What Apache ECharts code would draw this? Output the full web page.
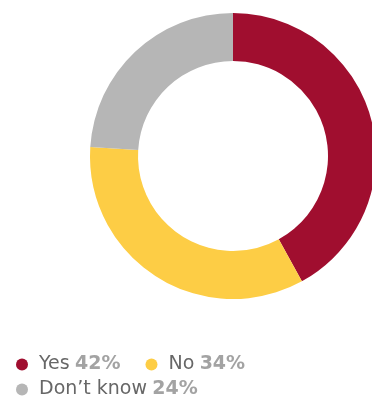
<!DOCTYPE html>
<html>
<head>
<meta charset="utf-8">
<script src="https://cdn.jsdelivr.net/npm/echarts@6/dist/echarts.min.js"></script>
<style>
  html, body { margin: 0; padding: 0; background: #fff; }
  #chart { width: 372px; height: 401px; }
</style>
</head>
<body>
<div id="chart"></div>
<script>
// Survey answers and their shares (%)
const answers = ['Yes', 'No', 'Don\u2019t know'];
const shares = [42, 34, 24];
const colors = ['#A00E2F', '#FDCD45', '#B6B6B6'];

const chart = echarts.init(document.getElementById('chart'), null, { renderer: 'canvas' });

const pieData = answers.map((name, i) => ({
  name: name,
  value: shares[i],
  itemStyle: { color: colors[i] }
}));

function legendRow(names, top) {
  return {
    left: 16,
    top: top,
    icon: 'circle',
    itemWidth: 12,
    itemHeight: 12,
    itemGap: 25,
    padding: 0,
    selectedMode: false,
    data: names,
    formatter: function (name) {
      const i = answers.indexOf(name);
      return '{n|' + name + '} {v|' + shares[i] + '%}';
    },
    textStyle: {
      rich: {
        n: { fontFamily: 'DejaVu Sans', fontSize: 19, color: '#676767', lineHeight: 20, padding: [0, 0, 0, 6] },
        v: { fontFamily: 'DejaVu Sans', fontSize: 19, fontWeight: 'bold', color: '#a3a3a3', lineHeight: 20, padding: [0, 0, 0, 2] }
      }
    }
  };
}

chart.setOption({
  animation: false,
  legend: [
    legendRow(answers.slice(0, 2), 355),
    legendRow(answers.slice(2), 380)
  ],
  series: [{
    type: 'pie',
    center: [233, 156],
    radius: [95, 143],
    startAngle: 90,
    clockwise: true,
    label: { show: false },
    labelLine: { show: false },
    emphasis: { disabled: true },
    data: pieData
  }]
});
</script>
</body>
</html>
